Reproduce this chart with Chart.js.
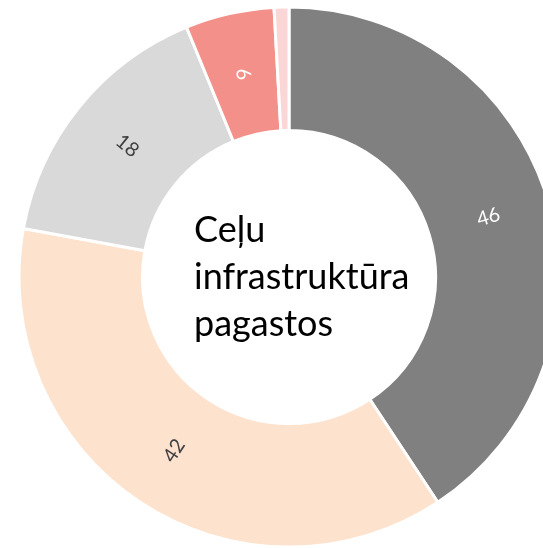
<!DOCTYPE html>
<html><head><meta charset="utf-8">
<script src="https://cdn.jsdelivr.net/npm/chart.js@4"></script>
<style>html,body{margin:0;padding:0;background:#fff}#wrap{width:543px;height:548px;position:relative}</style>
</head><body><div id="wrap"><canvas id="c"></canvas></div>
<script>
const categories = ['Kategorija 1', 'Kategorija 2', 'Kategorija 3', 'Kategorija 4', 'Kategorija 5'];
const values = [46, 42, 18, 6, 1];
const sliceColors = ['#808080', '#FDE2CE', '#D9D9D9', '#F3908A', '#FAD6D6'];
const labelColors = ['#FFFFFF', '#404040', '#404040', '#FFFFFF', null];
const centerLines = ['Ceļu', 'infrastruktūra', 'pagastos'];

const sliceLabels = {
  id: 'sliceLabels',
  afterDatasetsDraw(chart) {
    const ctx = chart.ctx;
    const meta = chart.getDatasetMeta(0);
    meta.data.forEach((arc, i) => {
      if (!labelColors[i]) return;
      const p = arc.getProps(['startAngle', 'endAngle', 'innerRadius', 'outerRadius', 'x', 'y'], true);
      const mid = (p.startAngle + p.endAngle) / 2;
      const r = (p.innerRadius + p.outerRadius) / 2;
      const px = p.x + Math.cos(mid) * r, py = p.y + Math.sin(mid) * r;
      let rot = mid;
      while (rot > Math.PI / 2) rot -= Math.PI;
      while (rot <= -Math.PI / 2) rot += Math.PI;
      ctx.save();
      ctx.translate(px, py);
      ctx.rotate(rot);
      ctx.fillStyle = labelColors[i];
      ctx.font = '20px Lato';
      ctx.textAlign = 'center';
      ctx.textBaseline = 'middle';
      ctx.fillText(String(values[i]), 0, 0);
      ctx.restore();
    });
  }
};

const centerText = {
  id: 'centerText',
  afterDatasetsDraw(chart) {
    const ctx = chart.ctx;
    const arc = chart.getDatasetMeta(0).data[0];
    const cx = arc.x, cy = arc.y;
    ctx.save();
    ctx.fillStyle = '#000000';
    ctx.font = '36px Lato';
    ctx.textAlign = 'left';
    ctx.textBaseline = 'alphabetic';
    const offs = [-35, 12, 59];
    centerLines.forEach((t, k) => ctx.fillText(t, cx - 95, cy + offs[k]));
    ctx.restore();
  }
};

new Chart(document.getElementById('c'), {
  type: 'doughnut',
  data: {
    labels: categories,
    datasets: [{
      data: values,
      backgroundColor: sliceColors,
      borderColor: '#FFFFFF',
      borderWidth: 3
    }]
  },
  options: {
    responsive: true,
    maintainAspectRatio: false,
    animation: false,
    radius: 270,
    cutout: 137,
    layout: { padding: { left: 35, right: 0, top: 6, bottom: 0 } },
    plugins: { legend: { display: false }, tooltip: { enabled: false } }
  },
  plugins: [sliceLabels, centerText]
});
</script>
</body></html>
